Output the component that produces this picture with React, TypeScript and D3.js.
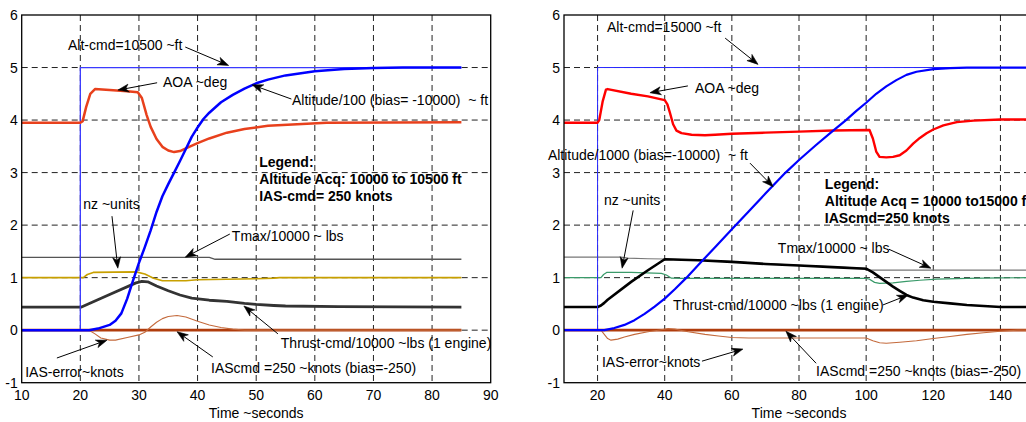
import React from 'react';
import * as d3 from 'd3';

// ---------- data ----------
const yTicks = [-1, 0, 1, 2, 3, 4, 5, 6];
const leftXTicks = [10, 20, 30, 40, 50, 60, 70, 80, 90];
const rightXTicks = [20, 40, 60, 80, 100, 120, 140];
const leftXDomain = [10, 90];
const rightXDomain = [10, 150];
const yDomain = [-1, 6];

// Left panel: altitude acquisition 10000 -> 10500 ft   [time s, value]
const L_altCmd = [[10, 0], [20, 0], [20, 5], [85, 5]];
const L_altitude = [[10, 0], [21.5, 0], [23, 0.03], [25, 0.1], [26, 0.18], [27, 0.32], [28, 0.6], [29, 0.95], [30, 1.28], [31, 1.58], [32, 1.9], [33, 2.25], [34, 2.55], [35, 2.78], [36, 3.0], [37, 3.22], [38, 3.45], [39, 3.68], [40, 3.86], [41, 4.02], [42, 4.14], [44, 4.34], [46, 4.48], [48, 4.6], [50, 4.7], [52, 4.77], [55, 4.85], [60, 4.93], [65, 4.97], [70, 4.99], [75, 5.0], [85, 5.0]];
const L_aoa = [[10, 3.95], [20, 3.95], [20.4, 3.98], [21, 4.25], [21.7, 4.5], [22.5, 4.59], [25, 4.57], [28, 4.55], [29.8, 4.53], [30.5, 4.42], [31.3, 4.1], [32, 3.87], [33, 3.64], [34, 3.49], [35, 3.42], [36, 3.39], [37, 3.41], [38, 3.46], [40, 3.56], [42, 3.65], [45, 3.76], [48, 3.83], [52, 3.89], [57, 3.92], [62, 3.95], [85, 3.96]];
const L_tmax = [[10, 1.385], [42, 1.385], [43, 1.35], [85, 1.35]];
const L_nz = [[10, 1], [20.5, 1], [21.2, 1.06], [22.2, 1.1], [29.5, 1.11], [31, 1.07], [32.5, 0.99], [34, 0.94], [38, 0.94], [40, 0.96], [45, 0.97], [50, 0.98], [53, 0.99], [54, 1.0], [85, 1.0]];
const L_thrust = [[10, 0.44], [20.2, 0.44], [25, 0.68], [29.5, 0.9], [30.5, 0.93], [31.5, 0.92], [33, 0.84], [35, 0.75], [37, 0.67], [39, 0.61], [42, 0.57], [45, 0.55], [48, 0.51], [50, 0.49], [53, 0.47], [55, 0.46], [64, 0.45], [85, 0.44]];
const L_iasCmd = [[10, 0], [85, 0]];
const L_iasErr = [[10, 0], [21.5, 0], [22.5, -0.07], [23.5, -0.15], [25, -0.19], [26, -0.19], [28, -0.14], [30, -0.09], [31, -0.04], [32, 0.06], [33, 0.15], [34, 0.22], [35, 0.26], [36.5, 0.28], [38, 0.25], [40, 0.17], [42, 0.1], [44, 0.05], [46, 0.02], [48, 0.0], [85, 0]];

// Right panel: altitude acquisition 10000 -> 15000 ft
const R_altCmd = [[10, 0], [20, 0], [20, 5], [150, 5]];
const R_altitude = [[10, 0], [22, 0], [25, 0.04], [28, 0.1], [31, 0.19], [34, 0.31], [37, 0.45], [40, 0.6], [43, 0.78], [46.5, 1.0], [50, 1.24], [55, 1.58], [60, 1.92], [65, 2.26], [70, 2.6], [76, 3.0], [80, 3.24], [85, 3.52], [90, 3.79], [94, 4.0], [97, 4.17], [100, 4.33], [103, 4.5], [106, 4.64], [109, 4.76], [112, 4.86], [115, 4.92], [120, 4.97], [125, 4.99], [130, 5.0], [150, 5.0]];
const R_aoa = [[10, 3.95], [20, 3.95], [20.5, 4.0], [21.5, 4.35], [22.5, 4.58], [23, 4.59], [30, 4.5], [35, 4.45], [40, 4.38], [40.8, 4.3], [41.5, 4.15], [42.5, 3.92], [43.5, 3.8], [45, 3.75], [48, 3.72], [52, 3.71], [55, 3.72], [60, 3.74], [70, 3.76], [80, 3.78], [90, 3.8], [101, 3.81], [102, 3.65], [103, 3.4], [104, 3.3], [106, 3.29], [108, 3.3], [110, 3.33], [112, 3.42], [114, 3.55], [116, 3.66], [118, 3.75], [120, 3.82], [123, 3.9], [127, 3.96], [132, 3.99], [140, 4.01], [150, 4.01]];
const R_tmax = [[10, 1.39], [27, 1.39], [29, 1.37], [35, 1.36], [40, 1.355], [50, 1.335], [60, 1.305], [70, 1.265], [80, 1.235], [90, 1.205], [100, 1.175], [101, 1.145], [150, 1.145]];
const R_nz = [[10, 1], [21, 1], [21.8, 1.06], [22.7, 1.1], [30, 1.1], [39, 1.08], [40.5, 1.05], [42, 0.99], [45, 0.985], [100, 0.985], [101, 0.97], [102.5, 0.91], [104, 0.89], [108, 0.9], [112, 0.93], [116, 0.95], [121, 0.97], [130, 0.985], [140, 0.995], [150, 1.0]];
const R_thrust = [[10, 0.44], [20, 0.44], [21, 0.47], [22, 0.52], [23, 0.58], [30, 0.92], [35, 1.14], [40, 1.35], [45, 1.34], [50, 1.33], [60, 1.3], [70, 1.26], [80, 1.23], [90, 1.2], [100, 1.17], [102, 1.1], [104, 1.01], [106, 0.92], [108, 0.83], [110, 0.75], [112, 0.67], [114, 0.62], [117, 0.57], [120, 0.54], [125, 0.51], [130, 0.48], [135, 0.46], [140, 0.44], [150, 0.44]];
const R_iasCmd = [[10, 0], [150, 0]];
const R_iasErr = [[10, 0], [21, 0], [22, -0.08], [23, -0.16], [24, -0.19], [26, -0.17], [28, -0.13], [31, -0.08], [35, -0.03], [38, 0.0], [41, 0.03], [43, 0.02], [47, -0.03], [52, -0.08], [56, -0.11], [60, -0.14], [65, -0.15], [100, -0.15], [102, -0.2], [104, -0.24], [106, -0.25], [110, -0.23], [115, -0.2], [120, -0.16], [125, -0.12], [130, -0.08], [135, -0.05], [140, -0.02], [145, 0.0], [150, 0]];

// annotation texts
const leftNotesText = ['Alt-cmd=10500 ~ft', 'AOA ~deg', 'Altitude/100 (bias= -10000)  ~ ft', 'nz ~units', 'Tmax/10000 ~ lbs', 'Thrust-cmd/10000 ~lbs (1 engine)', 'IAScmd =250 ~knots (bias=-250)', 'IAS-error~knots'];
const rightNotesText = ['Alt-cmd=15000 ~ft', 'AOA ~deg', 'Altitude/1000 (bias=-10000)  ~ ft', 'nz ~units', 'Tmax/10000 ~ lbs', 'Thrust-cmd/10000 ~lbs (1 engine)', 'IAScmd =250 ~knots (bias=-250)', 'IAS-error~knots'];
const leftLegendText = ['Legend:', 'Altitude Acq: 10000 to 10500 ft', 'IAS-cmd= 250 knots'];
const rightLegendText = ['Legend:', 'Altitude Acq = 10000 to15000 ft', 'IAScmd=250 knots'];
const xTitle = 'Time ~seconds';

// ---------- layout (data coordinates for labels / arrows) ----------
const leftNotePos = [
  { at: [17.9, 5.43], from: [37.9, 5.39], to: [45.3, 5.04] },
  { at: [34.1, 4.72], from: [33.1, 4.71], to: [26.4, 4.57] },
  { at: [56.1, 4.38], from: [56.0, 4.40], to: [49.3, 4.67] },
  { at: [20.5, 2.40], from: [25.4, 2.17], to: [26.4, 1.18] },
  { at: [45.85, 1.79], from: [45.5, 1.83], to: [37.9, 1.39] },
  { at: [54.2, -0.24], from: [53.7, -0.07], to: [47.9, 0.46] },
  { at: [42.3, -0.72], from: [42.6, -0.51], to: [36.5, -0.03] },
  { at: [10.6, -0.79], from: [16.0, -0.53], to: [24.55, -0.19] },
];
const rightNotePos = [
  { at: [22.8, 5.77], from: [58.0, 5.56], to: [67.8, 5.06] },
  { at: [49.0, 4.61], from: [46.9, 4.65], to: [35.6, 4.52] },
  { at: [5.2, 3.34], from: [65.4, 3.18], to: [72.3, 2.73] },
  { at: [21.9, 2.48], from: [30.6, 2.28], to: [27.3, 1.18] },
  { at: [73.7, 1.56], from: [106.8, 1.54], to: [119.3, 1.18] },
  { at: [42.5, 0.48], from: [105.0, 0.48], to: [112.5, 0.67] },
  { at: [85.1, -0.78], from: [85.1, -0.63], to: [76.1, -0.02] },
  { at: [21.3, -0.61], from: [51.1, -0.59], to: [63.3, -0.36] },
];
const leftLegendPos = [50.5, 3.2];
const rightLegendPos = [87.7, 2.78];

const TOP = 15;
const BOTTOM = 382.7;
const FONT = "'Liberation Sans', Arial, Helvetica, sans-serif";

type Pt = number[];

function Arrow({ x1, y1, x2, y2 }: { x1: number; y1: number; x2: number; y2: number }) {
  const dx = x2 - x1, dy = y2 - y1;
  const len = Math.hypot(dx, dy) || 1;
  const ux = dx / len, uy = dy / len;
  const px = -uy, py = ux;
  const L = 11, Wd = 4, notch = 8;
  const bx = x2 - ux * L, by = y2 - uy * L;
  const nx = x2 - ux * notch, ny = y2 - uy * notch;
  const head = `M${x2},${y2} L${bx + px * Wd},${by + py * Wd} L${nx},${ny} L${bx - px * Wd},${by - py * Wd} Z`;
  return (
    <g>
      <line x1={x1} y1={y1} x2={nx} y2={ny} stroke="#000" strokeWidth={1} />
      <path d={head} fill="#000" stroke="#000" strokeWidth={0.6} strokeLinejoin="miter" />
    </g>
  );
}

function Panel({ x0, x1, xDomain, xTicks, series, notesText, notesPos, legendText, legendPos }: any) {
  const x = d3.scaleLinear().domain(xDomain).range([x0, x1]);
  const y = d3.scaleLinear().domain(yDomain).range([BOTTOM, TOP]);
  const line = d3.line<Pt>().x(d => x(d[0])).y(d => y(d[1]));
  const midX = (x0 + x1) / 2;
  return (
    <g>
      {xTicks.filter((t: number) => t > xDomain[0] && t < xDomain[1]).map((t: number) => (
        <line key={'gx' + t} x1={x(t)} x2={x(t)} y1={TOP} y2={BOTTOM} stroke="#222" strokeWidth={1} strokeDasharray="6,4" />
      ))}
      {yTicks.filter(t => t > yDomain[0] && t < yDomain[1]).map(t => (
        <line key={'gy' + t} x1={x0} x2={x1} y1={y(t)} y2={y(t)} stroke="#222" strokeWidth={1} strokeDasharray="6,4" />
      ))}
      {series.map((s: any, i: number) => (
        <path key={'s' + i} d={line(s.data) || ''} fill="none" stroke={s.color} strokeWidth={s.width} strokeLinejoin="round" strokeLinecap="butt" />
      ))}
      <rect x={x0} y={TOP} width={x1 - x0} height={BOTTOM - TOP} fill="none" stroke="#000" strokeWidth={1.3} />
      {yTicks.map(t => (
        <text key={'ty' + t} x={x0 - 4} y={y(t)} dy="0.36em" textAnchor="end" fontSize={14} fontFamily={FONT} fill="#000">{t}</text>
      ))}
      {xTicks.map((t: number) => (
        <text key={'tx' + t} x={x(t)} y={BOTTOM + 17} textAnchor="middle" fontSize={14} fontFamily={FONT} fill="#000">{t}</text>
      ))}
      <text x={midX} y={BOTTOM + 35} textAnchor="middle" fontSize={14} fontFamily={FONT} fill="#000">{xTitle}</text>
      {notesText.map((txt: string, i: number) => {
        const p = notesPos[i];
        return (
          <g key={'n' + i}>
            <text x={x(p.at[0])} y={y(p.at[1])} dy="0.36em" fontSize={14} fontFamily={FONT} fill="#000" style={{ whiteSpace: 'pre' }}>{txt}</text>
            <Arrow x1={x(p.from[0])} y1={y(p.from[1])} x2={x(p.to[0])} y2={y(p.to[1])} />
          </g>
        );
      })}
      {legendText.map((txt: string, i: number) => (
        <text key={'lg' + i} x={x(legendPos[0])} y={y(legendPos[1]) + i * 16.8} dy="0.36em" fontSize={14} fontWeight="bold" fontFamily={FONT} fill="#000">{txt}</text>
      ))}
    </g>
  );
}

export default function App() {
  const leftSeries = [
    { data: L_iasCmd, color: '#b03c0c', width: 2.6 },
    { data: L_iasErr, color: '#c46a3c', width: 1.1 },
    { data: L_tmax, color: '#555555', width: 1.3 },
    { data: L_nz, color: '#c8a000', width: 1.6 },
    { data: L_thrust, color: '#333333', width: 2.8 },
    { data: L_altCmd, color: '#3a3aff', width: 1.3 },
    { data: L_aoa, color: '#e8401c', width: 2.5 },
    { data: L_altitude, color: '#0000ff', width: 2.5 },
  ];
  const rightSeries = [
    { data: R_iasCmd, color: '#b03c0c', width: 2.6 },
    { data: R_iasErr, color: '#c46a3c', width: 1.1 },
    { data: R_tmax, color: '#777777', width: 1.2 },
    { data: R_nz, color: '#3a9a6a', width: 1.2 },
    { data: R_thrust, color: '#000000', width: 2.6 },
    { data: R_altCmd, color: '#2a2aff', width: 1.0 },
    { data: R_aoa, color: '#ff0000', width: 2.4 },
    { data: R_altitude, color: '#0000ff', width: 2.2 },
  ];
  return (
    <svg width={1026} height={422} style={{ position: 'absolute', left: 0, top: 0, background: '#fff' }}>
      <rect x={0} y={0} width={1026} height={422} fill="#fff" />
      <Panel x0={21.7} x1={490.7} xDomain={leftXDomain} xTicks={leftXTicks} series={leftSeries}
        notesText={leftNotesText} notesPos={leftNotePos} legendText={leftLegendText} legendPos={leftLegendPos} />
      <Panel x0={564} x1={1034} xDomain={rightXDomain} xTicks={rightXTicks} series={rightSeries}
        notesText={rightNotesText} notesPos={rightNotePos} legendText={rightLegendText} legendPos={rightLegendPos} />
    </svg>
  );
}
